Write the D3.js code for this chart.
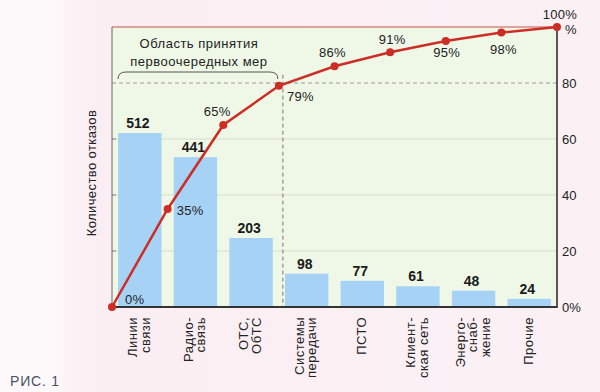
<!DOCTYPE html>
<html><head><meta charset="utf-8">
<script src="https://cdn.jsdelivr.net/npm/d3@7"></script>
<style>
html,body{margin:0;padding:0;background:#fbf0f4;}
svg{display:block;font-family:"Liberation Sans",Arial,sans-serif;}
</style></head>
<body>
<svg id="c" width="600" height="392"></svg>
<script>
// ---- data ----
const categories = ["Линии\nсвязи","Радио-\nсвязь","ОТС,\nОбТС","Системы\nпередачи","ПСТО","Клиент-\nская сеть","Энерго-\nснаб-\nжение","Прочие"];
const failures = [512, 441, 203, 98, 77, 61, 48, 24];
const cumulativePct = [0, 35, 65, 79, 86, 91, 95, 98, 100];
const rightTicks = [0, 20, 40, 60, 80];
const regionLabel = ["Область принятия", "первоочередных мер"];
const yTitle = "Количество отказов";
const figLabel = "РИС. 1";

// ---- layout ----
const L = 112, R = 557, T = 27, B = 307;
const svg = d3.select("#c");

const defs = svg.append("defs");
const g1 = defs.append("linearGradient").attr("id","bg").attr("x1",0).attr("x2",1).attr("y1",0).attr("y2",0);
g1.append("stop").attr("offset","0%").attr("stop-color","#fdf9fa");
g1.append("stop").attr("offset","9%").attr("stop-color","#fdf8fa");
g1.append("stop").attr("offset","16%").attr("stop-color","#fbeef3");
g1.append("stop").attr("offset","100%").attr("stop-color","#fbf1f5");
svg.append("rect").attr("width",600).attr("height",392).attr("fill","url(#bg)");

const x = d3.scaleBand().domain(categories).range([L,R]).paddingInner(0.22).paddingOuter(0.11);
const xp = d3.scaleLinear().domain([0, categories.length]).range([L,R]);
const yp = d3.scaleLinear().domain([0,100]).range([B,T]);
const yc = d3.scaleLinear().domain([0,824]).range([B,T]);

// plot background
svg.append("rect").attr("x",L).attr("y",T).attr("width",R-L).attr("height",B-T).attr("fill","#eff8e7");

// faint grid
svg.append("g").selectAll("line").data([20,40,60]).join("line")
  .attr("x1",L).attr("x2",R).attr("y1",d=>yp(d)).attr("y2",d=>yp(d))
  .attr("stroke","#d6dccd").attr("stroke-width",1);
// left ticks
svg.append("g").selectAll("line").data([20,40,60]).join("line")
  .attr("x1",L).attr("x2",L+4).attr("y1",d=>yp(d)).attr("y2",d=>yp(d))
  .attr("stroke","#888").attr("stroke-width",1);

// bars
svg.append("g").selectAll("rect").data(failures).join("rect")
  .attr("x",(d,i)=>x(categories[i])).attr("width",x.bandwidth())
  .attr("y",d=>yc(d)).attr("height",d=>B-yc(d)).attr("fill","#a6d2f6");

// 80% dashed line
svg.append("line").attr("x1",L).attr("x2",R).attr("y1",yp(80)).attr("y2",yp(80))
  .attr("stroke","#9a9a9a").attr("stroke-width",1).attr("stroke-dasharray","4,3");
// vertical dashed line at the 80% boundary
svg.append("line").attr("x1",xp(3)+4).attr("x2",xp(3)+4).attr("y1",yp(83)).attr("y2",B)
  .attr("stroke","#777").attr("stroke-width",1).attr("stroke-dasharray","4,3");

// brace
const bx0 = L+6, bx1 = xp(3)-1, by = yp(80)-11;
svg.append("path")
  .attr("d",`M${bx0},${by+7} Q${bx0},${by} ${bx0+8},${by} L${bx1-8},${by} Q${bx1},${by} ${bx1},${by+7}`)
  .attr("fill","none").attr("stroke","#555").attr("stroke-width",1);
svg.append("g").selectAll("text").data(regionLabel).join("text")
  .attr("x",(bx0+bx1)/2+1).attr("y",(d,i)=>48+i*18).attr("text-anchor","middle")
  .attr("font-size",13).attr("fill","#222").attr("letter-spacing",0.5).text(d=>d);

// axes lines
svg.append("line").attr("x1",L).attr("x2",R).attr("y1",T).attr("y2",T).attr("stroke","#c9534a").attr("stroke-width",1);
svg.append("line").attr("x1",L).attr("x2",L).attr("y1",T).attr("y2",B).attr("stroke","#666").attr("stroke-width",1);
svg.append("line").attr("x1",R).attr("x2",R).attr("y1",T).attr("y2",B+1).attr("stroke","#222").attr("stroke-width",1.5);
svg.append("line").attr("x1",L).attr("x2",R).attr("y1",B).attr("y2",B).attr("stroke","#333").attr("stroke-width",2);

// right axis labels
svg.append("g").selectAll("text").data(rightTicks).join("text")
  .attr("x",R+5).attr("y",d=>yp(d)+5).attr("font-size",13).attr("fill","#222")
  .text(d=>d===0?"0%":d);
svg.append("text").attr("x",R+8).attr("y",yp(100)+7).attr("font-size",13).attr("fill","#222").text("%");

// bar value labels
svg.append("g").selectAll("text").data(failures).join("text")
  .attr("x",(d,i)=>x(categories[i])+x.bandwidth()/2-2).attr("y",d=>yc(d)-5)
  .attr("text-anchor","middle").attr("font-size",14).attr("font-weight","bold").attr("fill","#1a1a1a")
  .text(d=>d);

// cumulative line
const line = d3.line().x((d,i)=>xp(i)).y(d=>yp(d));
svg.append("path").datum(cumulativePct).attr("d",line).attr("fill","none")
  .attr("stroke","#cc2e26").attr("stroke-width",2.5);
svg.append("g").selectAll("circle").data(cumulativePct).join("circle")
  .attr("cx",(d,i)=>xp(i)).attr("cy",d=>yp(d)).attr("r",4).attr("fill","#cc2e26");

// percent labels (offsets relative to the points)
const pOff = [[13,-3,"start"],[9,6,"start"],[-6,-9,"middle"],[8,15,"start"],[-2,-9,"middle"],[2,-8,"middle"],[1,16,"middle"],[2,21,"middle"],[3,-8,"middle"]];
svg.append("g").selectAll("text").data(cumulativePct).join("text")
  .attr("x",(d,i)=>xp(i)+pOff[i][0]).attr("y",(d,i)=>yp(d)+pOff[i][1])
  .attr("text-anchor",(d,i)=>pOff[i][2]).attr("font-size",13).attr("fill","#222")
  .attr("letter-spacing",0.3).text(d=>d+"%");

// category labels (rotated)
const cg = svg.append("g");
categories.forEach((c,i)=>{
  const lines = c.split("\n");
  const cx = x(c)+x.bandwidth()/2 - 1;
  const lh = 12.5;
  lines.forEach((t,j)=>{
    const lx = cx + (j-(lines.length-1)/2)*lh + 4.5;
    cg.append("text").attr("transform",`translate(${lx},${B+10}) rotate(-90)`)
      .attr("text-anchor","end").attr("font-size",13).attr("fill","#222")
      .attr("letter-spacing",0.5).text(t);
  });
});

// y title
svg.append("text").attr("transform",`translate(96,${(T+B)/2+6}) rotate(-90)`)
  .attr("text-anchor","middle").attr("font-size",13).attr("fill","#222").attr("letter-spacing",0.4).text(yTitle);

// figure label
svg.append("text").attr("x",10).attr("y",386).attr("font-size",14).attr("letter-spacing",0.8).attr("fill","#4a5066").text(figLabel);
</script>
</body></html>
